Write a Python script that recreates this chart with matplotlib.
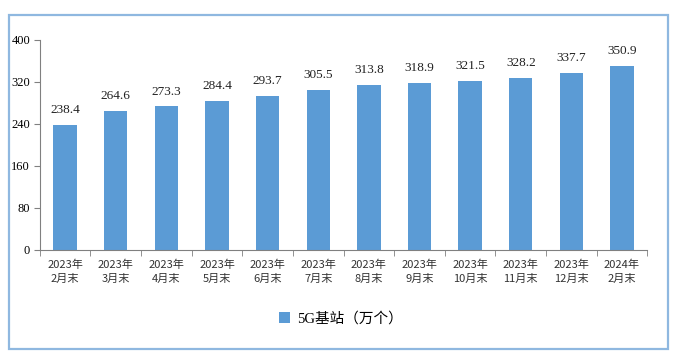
import numpy as np
import matplotlib.pyplot as plt
from matplotlib.patches import Rectangle

categories = ['2023年\n2月末', '2023年\n3月末', '2023年\n4月末', '2023年\n5月末',
              '2023年\n6月末', '2023年\n7月末', '2023年\n8月末', '2023年\n9月末',
              '2023年\n10月末', '2023年\n11月末', '2023年\n12月末', '2024年\n2月末']
values = [238.4, 264.6, 273.3, 284.4, 293.7, 305.5, 313.8, 318.9, 321.5, 328.2, 337.7, 350.9]
yticks = [0, 80, 160, 240, 320, 400]

plt.rcParams['font.family'] = ['Liberation Serif', 'Noto Sans CJK SC']
bar_color = '#5b9bd5'

fig = plt.figure(figsize=(6.75, 3.57), dpi=100)
ax = fig.add_axes([0.059, 0.30, 0.9, 0.588])

x = np.arange(len(values))
bars = ax.bar(x, values, width=0.46, color=bar_color, label='5G基站（万个）', zorder=2)
for xi, v in zip(x, values):
    ax.text(xi, v + 17, f'{v:.1f}', ha='center', va='bottom', fontsize=9.5,
            family='Liberation Serif', color='#222222')

ax.set_xlim(-0.5, len(values) - 0.5)
ax.set_ylim(0, 400)
ax.set_yticks(yticks)
ax.set_yticklabels([str(t) for t in yticks], fontsize=9, family='Liberation Serif')

# labels centred under bars, tick marks between categories
ax.set_xticks(x)
ax.set_xticklabels(categories, fontsize=8, family=['Noto Sans CJK SC'], color='#333333',
                   linespacing=1.45)
ax.tick_params(axis='x', length=0, pad=7)
ax.set_xticks(np.arange(-0.5, len(values), 1), minor=True)
ax.tick_params(axis='x', which='minor', length=4, direction='out', color='#808080')
ax.tick_params(axis='y', length=4, direction='out', color='#808080', pad=3)

for s in ['top', 'right']:
    ax.spines[s].set_visible(False)
for s in ['left', 'bottom']:
    ax.spines[s].set_color('#808080')

leg = fig.legend(handles=[bars], labels=['5G基站（万个）'], loc='center',
                 bbox_to_anchor=(0.505, 0.108), frameon=False, handlelength=0.8,
                 handleheight=0.8, handletextpad=0.5,
                 prop={'family': ['Liberation Serif', 'Noto Sans CJK SC'], 'size': 10.5})

fig.patches.append(Rectangle((0.014, 0.022), 0.976, 0.935, transform=fig.transFigure,
                             fill=False, edgecolor='#8fb8e0', linewidth=1.6))

fig.savefig('out.png', dpi=100)
